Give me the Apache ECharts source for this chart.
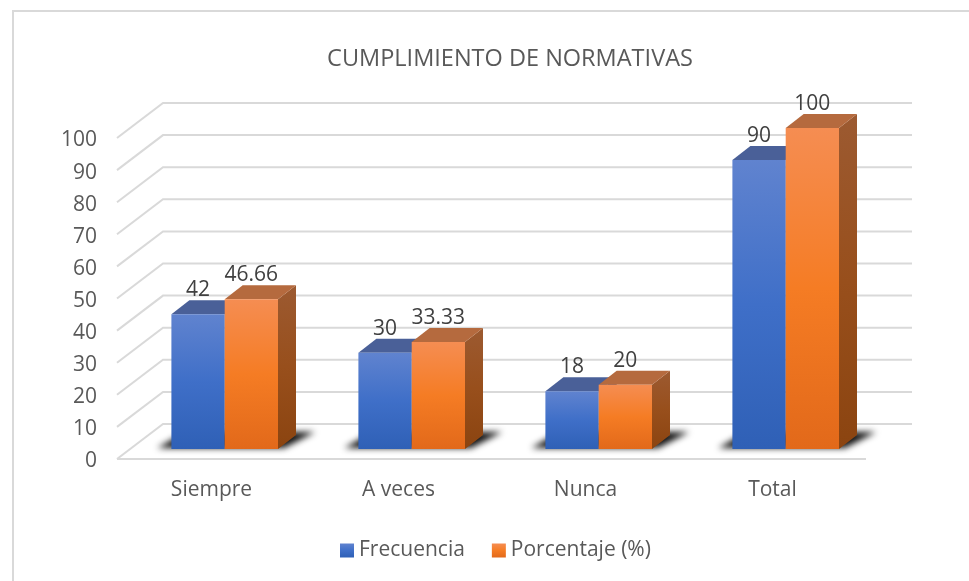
<!DOCTYPE html>
<html><head><meta charset="utf-8">
<style>html,body{margin:0;padding:0;background:#fff}#c{width:969px;height:581px}</style>
<script src="https://cdn.jsdelivr.net/npm/echarts@6/dist/echarts.min.js"></script>
</head><body><div id="c"></div>
<script>
const categories = ['Siempre','A veces','Nunca','Total'];
const frecuencia = [42,30,18,90];
const porcentaje = [46.66,33.33,20,100];
const ticks = [0,10,20,30,40,50,60,70,80,90,100];
const titleText = 'CUMPLIMIENTO DE NORMATIVAS';
const FONT = '"Open Sans", sans-serif';
const DX = 46, DY = 35;            // wall depth
const BX = 13.2, BY = 10;          // bar inset from front plane
const BW = 53.3, TX = 18, TY = 14; // bar width and depth
const FAR = 3000;                  // shadow caster sits off-canvas, only its blur shows
const LG = echarts.graphic.LinearGradient;
const stops = (a,b,c)=>new LG(0,0,0,1,[{offset:0,color:a},{offset:.5,color:b},{offset:1,color:c}]);
const blueFill = stops('#6083cf','#3f6fc8','#2f60b6');
const orangeFill = stops('#f58d52','#f57c24','#e2691a');
const sideFill = stops('#9c5a31','#984f1c','#8b4410');
const chart = echarts.init(document.getElementById('c'),null,{renderer:'canvas'});

function bar(dir, front, top, side){
  return function(p, api){
    const cat = api.value(0), val = api.value(1);
    const t = api.coord([cat,val]), b = api.coord([cat,0]);
    const x0 = t[0] + BX + (dir<0?-BW:0), x1 = x0 + BW, yt = t[1]-BY, yb = b[1]-BY;
    const poly = (pts,fill)=>({type:'polygon',shape:{points:pts},style:{fill:fill}});
    const txt = String(val);
    return {type:'group',children:[
      poly([[x1,yb],[x1+TX,yb-TY],[x1+TX,yt-TY],[x1,yt]],side),
      poly([[x0,yt],[x0+TX,yt-TY],[x1+TX,yt-TY],[x1,yt]],top),
      poly([[x0,yt],[x1,yt],[x1,yb],[x0,yb]],front),
      {type:'text',style:{text:txt,x:(x0+x1)/2,y:yt-24,align:'center',verticalAlign:'middle',
        fill:'#404040',font:'21px '+FONT}}
    ]};
  };
}
chart.setOption({
  animation:false,
  backgroundColor:'#fff',
  title:{text:titleText,left:505,top:42,textAlign:'center',
    textStyle:{fontFamily:FONT,fontSize:23.5,fontWeight:'normal',color:'#595959'}},
  legend:{data:['Frecuencia','Porcentaje (%)'],left:335,top:535,itemWidth:14,itemHeight:14,itemGap:27,
    icon:'rect',textStyle:{fontFamily:FONT,fontSize:21,color:'#595959'}},
  grid:{left:118,right:103,top:138,bottom:122},
  xAxis:{type:'category',data:categories,axisLine:{show:false},axisTick:{show:false},
    axisLabel:{margin:21,fontFamily:FONT,fontSize:21,color:'#595959'}},
  yAxis:{type:'value',min:0,max:100,interval:10,axisLine:{show:false},axisTick:{show:false},splitLine:{show:false},
    axisLabel:{margin:21,formatter:'{a|{value}}',
      rich:{a:{fontFamily:FONT,fontSize:21,color:'#595959',padding:[5,0,0,0]}}}},
  graphic:[{type:'rect',silent:true,z:-1,shape:{x:13,y:11,width:1000,height:700},
    style:{fill:'none',stroke:'#d9d9d9',lineWidth:2}}],
  series:[
    {type:'custom',name:'grid',silent:true,z:1,data:ticks.map(t=>[0,t]),encode:{x:0,y:1},
      renderItem(p,api){
        const v=api.value(1), y=api.coord([0,v])[1], cs=p.coordSys, L=cs.x-1, R=cs.x+cs.width;
        const ln={stroke:'#d9d9d9',lineWidth:2,fill:'none'};
        const kids=[{type:'polyline',shape:{points:[[L,y],[L+DX,y-DY],[R+DX,y-DY]]},style:ln}];
        if(v===0) kids.push({type:'line',shape:{x1:L,y1:y,x2:R,y2:y},style:ln});
        return {type:'group',children:kids};
      }},
    {type:'custom',name:'shadow',silent:true,z:2,data:categories.map((c,i)=>[i,0]),encode:{x:0,y:1},
      renderItem(p,api){
        const b=api.coord([api.value(0),0]);
        const L=b[0]+BX-BW-FAR, R=b[0]+BX+BW-FAR, B=b[1]-BY-1;
        return {type:'polygon',shape:{points:[[L-14,B],[R+6,B],[R+37,B-16],[L+14,B-16]]},
          style:{fill:'#111',shadowBlur:6,shadowColor:'#111',shadowOffsetX:FAR}};
      }},
    {type:'custom',name:'Frecuencia',z:3,data:frecuencia.map((v,i)=>[i,v]),encode:{x:0,y:1},
      itemStyle:{color:blueFill},renderItem:bar(-1,blueFill,'#4a6098','#2f4f8f')},
    {type:'custom',name:'Porcentaje (%)',z:4,data:porcentaje.map((v,i)=>[i,v]),encode:{x:0,y:1},
      itemStyle:{color:orangeFill},renderItem:bar(1,orangeFill,'#b56a3e',sideFill)}
  ]
});
</script></body></html>
